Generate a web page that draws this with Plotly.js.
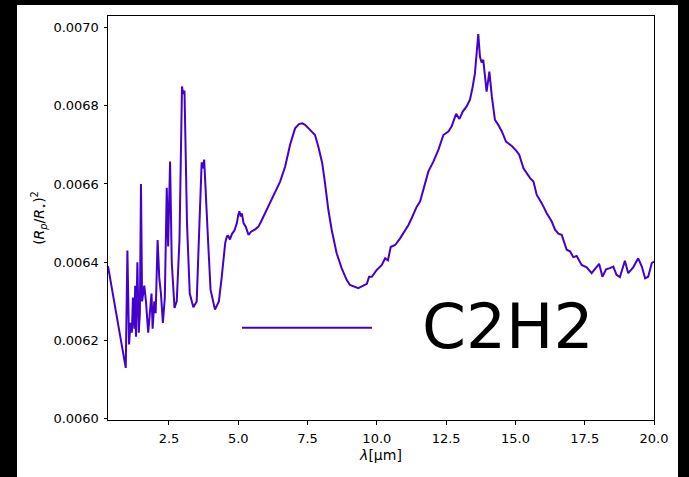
<!DOCTYPE html>
<html>
<head>
<meta charset="utf-8">
<script src="https://cdn.plot.ly/plotly-3.0.1.min.js"></script>
<style>
  html, body { margin: 0; padding: 0; background: #000; width: 689px; height: 477px; overflow: hidden; }
  #plot { position: absolute; left: 17px; top: 5px; width: 661px; height: 472px; }
</style>
</head>
<body>
<div id="plot"></div>
<script>
const speciesName = "C2H2";
const wavelength = [0.30, 0.94, 1.00, 1.06, 1.11, 1.16, 1.20, 1.25, 1.28, 1.31, 1.36, 1.41, 1.45, 1.49, 1.53, 1.61, 1.67, 1.75, 1.81, 1.87, 1.91, 1.97, 2.02, 2.09, 2.15, 2.21, 2.28, 2.35, 2.42, 2.47, 2.54, 2.60, 2.70, 2.78, 2.88, 2.97, 3.01, 3.06, 3.15, 3.25, 3.38, 3.50, 3.60, 3.68, 3.72, 3.77, 3.90, 4.00, 4.16, 4.30, 4.40, 4.53, 4.59, 4.64, 4.70, 4.77, 4.86, 4.95, 5.00, 5.04, 5.09, 5.13, 5.19, 5.27, 5.37, 5.46, 5.61, 5.73, 5.85, 6.03, 6.21, 6.39, 6.51, 6.69, 6.87, 7.05, 7.19, 7.31, 7.41, 7.59, 7.77, 7.89, 8.03, 8.13, 8.25, 8.37, 8.55, 8.73, 8.91, 9.03, 9.21, 9.33, 9.51, 9.64, 9.72, 9.82, 9.99, 10.18, 10.30, 10.40, 10.50, 10.66, 10.84, 10.96, 11.14, 11.26, 11.44, 11.56, 11.68, 11.86, 12.04, 12.22, 12.40, 12.58, 12.70, 12.86, 12.98, 13.10, 13.24, 13.36, 13.46, 13.54, 13.66, 13.72, 13.78, 13.84, 13.96, 14.06, 14.15, 14.26, 14.38, 14.51, 14.66, 14.87, 15.05, 15.14, 15.29, 15.41, 15.53, 15.65, 15.77, 15.95, 16.13, 16.31, 16.43, 16.55, 16.67, 16.85, 16.97, 17.09, 17.21, 17.39, 17.57, 17.75, 17.87, 18.02, 18.14, 18.27, 18.41, 18.53, 18.65, 18.77, 18.95, 19.07, 19.25, 19.43, 19.56, 19.68, 19.79, 19.92, 20.00];
const transitDepth = [0.006390, 0.006130, 0.006430, 0.006190, 0.006245, 0.006220, 0.006310, 0.006230, 0.006340, 0.006210, 0.006400, 0.006220, 0.006270, 0.006600, 0.006300, 0.006340, 0.006300, 0.006220, 0.006270, 0.006320, 0.006230, 0.006300, 0.006270, 0.006457, 0.006360, 0.006320, 0.006245, 0.006310, 0.006590, 0.006440, 0.006657, 0.006400, 0.006283, 0.006300, 0.006460, 0.006849, 0.006830, 0.006838, 0.006500, 0.006320, 0.006285, 0.006300, 0.006500, 0.006655, 0.006640, 0.006662, 0.006470, 0.006330, 0.006279, 0.006300, 0.006360, 0.006450, 0.006466, 0.006467, 0.006458, 0.006472, 0.006481, 0.006500, 0.006521, 0.006530, 0.006517, 0.006525, 0.006500, 0.006491, 0.006470, 0.006478, 0.006484, 0.006491, 0.006508, 0.006534, 0.006559, 0.006587, 0.006606, 0.006644, 0.006700, 0.006742, 0.006753, 0.006755, 0.006751, 0.006738, 0.006725, 0.006695, 0.006653, 0.006602, 0.006534, 0.006483, 0.006423, 0.006385, 0.006355, 0.006342, 0.006336, 0.006334, 0.006340, 0.006345, 0.006363, 0.006363, 0.006380, 0.006393, 0.006410, 0.006405, 0.006439, 0.006444, 0.006461, 0.006474, 0.006495, 0.006513, 0.006542, 0.006555, 0.006585, 0.006632, 0.006657, 0.006687, 0.006725, 0.006734, 0.006747, 0.006779, 0.006766, 0.006785, 0.006798, 0.006815, 0.006849, 0.006883, 0.006983, 0.006925, 0.006910, 0.006917, 0.006836, 0.006887, 0.006823, 0.006764, 0.006751, 0.006734, 0.006708, 0.006697, 0.006683, 0.006674, 0.006640, 0.006627, 0.006615, 0.006606, 0.006572, 0.006551, 0.006525, 0.006504, 0.006483, 0.006473, 0.006470, 0.006432, 0.006428, 0.006413, 0.006416, 0.006393, 0.006387, 0.006372, 0.006382, 0.006396, 0.006363, 0.006382, 0.006385, 0.006389, 0.006368, 0.006362, 0.006404, 0.006372, 0.006387, 0.006410, 0.006389, 0.006359, 0.006363, 0.006398, 0.006402];
const xTicks = [2.5, 5.0, 7.5, 10.0, 12.5, 15.0, 17.5, 20.0];
const yTicks = [0.0060, 0.0062, 0.0064, 0.0066, 0.0068, 0.0070];

const lineColor = '#4400cc';
const font = 'DejaVu Sans, sans-serif';

const trace = {
  x: wavelength, y: transitDepth, type: 'scatter', mode: 'lines',
  name: speciesName, line: {color: lineColor, width: 2}, showlegend: false
};

const axisCommon = {
  showline: true, mirror: true, linecolor: '#000', linewidth: 1,
  ticks: 'outside', ticklen: 3.5, tickwidth: 1, tickcolor: '#000',
  showgrid: false, zeroline: false,
  tickfont: {family: font, size: 13, color: '#000'}
};

const layout = {
  width: 661, height: 472,
  margin: {l: 91, r: 24, t: 11, b: 57},
  paper_bgcolor: '#fff', plot_bgcolor: '#fff',
  font: {family: font, color: '#000'},
  xaxis: Object.assign({}, axisCommon, {
    range: [0.3, 20.0], tickvals: xTicks, tickformat: '.1f', ticklabelstandoff: 3,
    title: {text: '<i>λ</i>[μm]', font: {family: font, size: 14, color: '#000'}, standoff: 5}
  }),
  yaxis: Object.assign({}, axisCommon, {
    range: [0.005997, 0.007029], tickvals: yTicks, tickformat: '.4f', ticklabelstandoff: 2,
    title: {text: '(<i>R</i><sub><i>p</i></sub>/<i>R</i><sub>⋆</sub>)<sup>2</sup>', font: {family: font, size: 14, color: '#000'}, standoff: 5}
  }),
  shapes: [{
    type: 'line', xref: 'paper', yref: 'paper',
    x0: 0.2454, x1: 0.4835, y0: 0.2285, y1: 0.2285,
    line: {color: lineColor, width: 2}
  }],
  annotations: [{
    text: speciesName, xref: 'paper', yref: 'paper', x: 0.7317, y: 0.232,
    xanchor: 'center', yanchor: 'middle', showarrow: false,
    font: {family: font, size: 63, color: '#000'}
  }]
};

Plotly.newPlot('plot', [trace], layout, {displayModeBar: false, staticPlot: true});
</script>
</body>
</html>
